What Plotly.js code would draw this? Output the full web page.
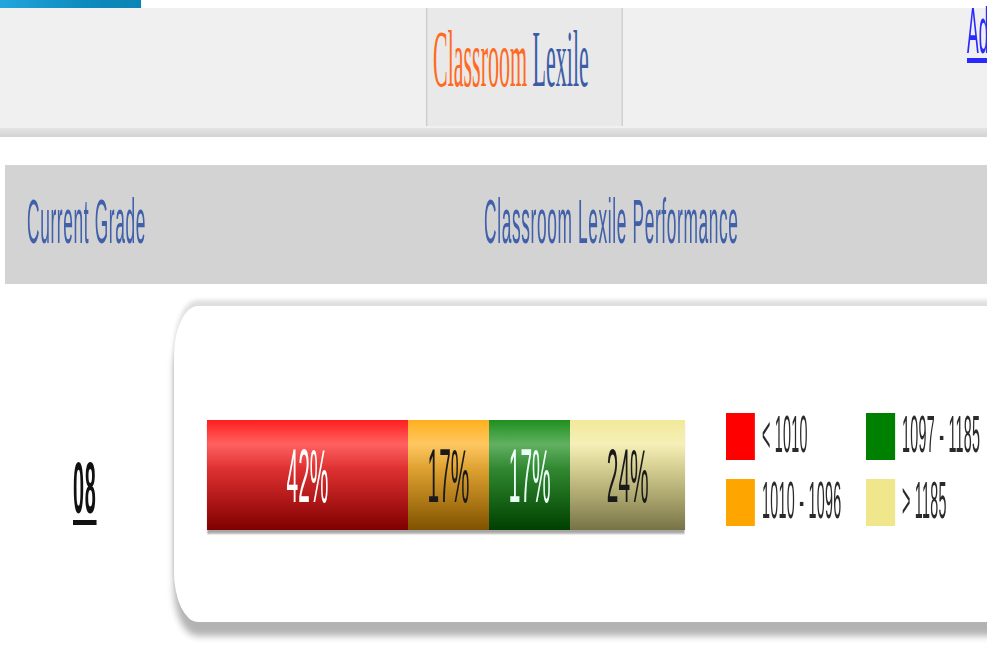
<!DOCTYPE html>
<html><head><meta charset="utf-8">
<script src="https://cdn.plot.ly/plotly-3.0.1.min.js"></script>
<style>
html,body{margin:0;padding:0;width:987px;height:649px;overflow:hidden;background:#fff;}
:root{--s:0.275;}
#wrap{position:absolute;left:0;top:0;width:calc(987px / var(--s));height:649px;transform:scaleX(var(--s));transform-origin:0 0;font-family:"Liberation Sans",Arial,sans-serif;overflow:hidden;}
.a{position:absolute;white-space:nowrap;}
#topstrip{left:0;top:0;width:calc(141px / var(--s));height:8px;background:linear-gradient(90deg,#22a6dd,#0c8bbd 60%,#0a84b4);}
#nav{left:0;top:8px;width:100%;height:120px;background:#f0f0f0;}
#navline{left:0;top:128px;width:100%;height:9px;background:linear-gradient(#e4e4e4,#d3d3d3);}
#tab{left:calc(426px / var(--s));top:8px;width:calc(197px / var(--s));height:118px;background:#e9e9e9;box-sizing:border-box;border-left:calc(1.5px / var(--s)) solid #cdcdcd;border-right:calc(1.5px / var(--s)) solid #cdcdcd;}
#title{left:calc(433px / var(--s));top:19px;font-family:"Liberation Serif","Times New Roman",serif;font-size:80px;line-height:80px;}
#title .c1{color:#ff6a21;} #title .c2{color:#3c5ca8;}
#adlink{left:calc(967px / var(--s));top:-1px;font-size:64px;line-height:64px;color:#2a2aff;text-decoration:underline;text-decoration-thickness:5px;text-underline-offset:5px;}
#hdr{left:calc(5px / var(--s));top:165px;width:calc(990px / var(--s));height:119px;background:#d3d3d3;}
.htext{top:190px;font-size:63px;line-height:63px;color:#4060aa;letter-spacing:2.3px;}
#card{left:calc(174px / var(--s));top:306px;width:calc(840px / var(--s));height:316px;background:#fff;border-radius:calc(24px / var(--s)) / 50px;box-shadow:0 16px 14px -2px rgba(0,0,0,0.30),0 -6px 9px rgba(0,0,0,0.13);}
#grade{left:calc(73px / var(--s));top:452px;font-size:72px;line-height:72px;font-weight:bold;color:#111;text-decoration:underline;text-decoration-thickness:5px;text-underline-offset:7px;letter-spacing:3px;}
.plotbox{left:calc(207px / var(--s));top:420px;width:calc(478px / var(--s));height:110px;}
#gloss{pointer-events:none;
 background:linear-gradient(to bottom,rgba(255,255,255,0.12) 0%,rgba(255,255,255,0.38) 22%,rgba(150,150,150,0.32) 45%,rgba(60,60,60,0.4) 72%,rgba(0,0,0,0.5) 100%);
 box-shadow:0 4px 3px rgba(0,0,0,0.35);}
.sw{width:calc(29px / var(--s));height:47px;}
.lt{font-size:52px;line-height:52px;color:#2a2a2a;letter-spacing:1px;}
</style></head>
<body>
<div id="wrap">
  <div class="a" id="topstrip"></div>
  <div class="a" id="nav"></div>
  <div class="a" id="navline"></div>
  <div class="a" id="tab"></div>
  <div class="a" id="title"><span class="c1">Classroom</span> <span class="c2">Lexile</span></div>
  <div class="a" id="adlink">Ad</div>
  <div class="a" id="hdr"></div>
  <div class="a htext" style="left:calc(27px / var(--s));">Current Grade</div>
  <div class="a htext" style="left:calc(484px / var(--s));">Classroom Lexile Performance</div>
  <div class="a" id="card"></div>
  <div class="a" id="grade"></div>
  <div class="a plotbox" id="plot"></div>
  <div class="a plotbox" id="gloss"></div>
  <div class="a plotbox" id="labels"></div>
  <div id="legend"></div>
</div>
<script>
const categories = ['< 1010', '1010 - 1096', '1097 - 1185', '> 1185'];
const percentValues = [42, 17, 17, 24];
const barColors = ['#ff0000', '#ffa500', '#008000', '#f0e68c'];
const labelColors = ['#ffffff', '#1a1a1a', '#eafff6', '#1a1a1a'];
const gradeLabels = ['08'];

const S = 0.275;
document.getElementById('grade').textContent = gradeLabels[0];

function makeTraces(withFill, withText) {
  return categories.map((name, i) => ({
    type: 'bar', orientation: 'h',
    y: [gradeLabels[0]], x: [percentValues[i]],
    name: name,
    marker: {color: withFill ? barColors[i] : 'rgba(0,0,0,0)', line: {width: 0}},
    text: withText ? [percentValues[i] + '%'] : [''],
    textposition: 'inside', insidetextanchor: 'middle',
    textfont: {color: labelColors[i], size: 76, family: 'Liberation Sans, Arial, sans-serif'},
    hoverinfo: 'skip'
  }));
}
const layout = {
  width: Math.round(478 / S), height: 110,
  margin: {l: 0, r: 0, t: 0, b: 0, pad: 0},
  barmode: 'stack', bargap: 0, showlegend: false,
  xaxis: {range: [0, 100], visible: false, fixedrange: true},
  yaxis: {type: 'category', range: [-0.5, 0.5], visible: false, fixedrange: true},
  paper_bgcolor: 'rgba(0,0,0,0)', plot_bgcolor: 'rgba(0,0,0,0)'
};
const cfg = {displayModeBar: false, staticPlot: true};
// bars (below gloss) and their value labels (above gloss)
Plotly.newPlot('plot', makeTraces(true, false), JSON.parse(JSON.stringify(layout)), cfg);
Plotly.newPlot('labels', makeTraces(false, true), JSON.parse(JSON.stringify(layout)), cfg);

// legend (2 rows, column-major)
const leg = document.getElementById('legend');
const colX = [726, 866], rowY = [413, 479];
categories.forEach((name, i) => {
  const c = Math.floor(i / 2), r = i % 2;
  const sw = document.createElement('div');
  sw.className = 'a sw';
  sw.style.left = (colX[c] / S) + 'px';
  sw.style.top = rowY[r] + 'px';
  sw.style.background = barColors[i];
  leg.appendChild(sw);
  const t = document.createElement('div');
  t.className = 'a lt';
  t.style.left = ((colX[c] + 36) / S) + 'px';
  t.style.top = (rowY[r] - 5) + 'px';
  t.textContent = name;
  leg.appendChild(t);
});
</script>
</body></html>
